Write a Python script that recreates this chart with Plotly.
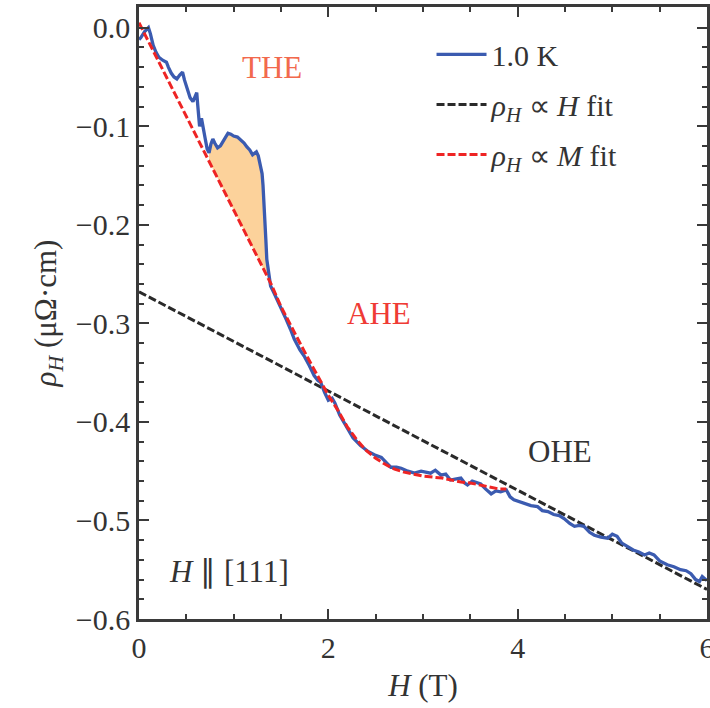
import numpy as np
import plotly.graph_objects as go

# ---- data ----
blue_H = [0.00, 0.02, 0.06, 0.10, 0.12, 0.15, 0.18, 0.21, 0.25, 0.29, 0.31, 0.34, 0.37, 0.40,
          0.43, 0.46, 0.48, 0.51, 0.54, 0.57, 0.59, 0.61, 0.62, 0.63, 0.64, 0.66, 0.68, 0.70,
          0.72, 0.74, 0.76, 0.78, 0.80, 0.83, 0.86, 0.88, 0.91, 0.94, 0.97, 1.00, 1.04, 1.08,
          1.11, 1.14, 1.17, 1.20, 1.22, 1.24, 1.26, 1.28, 1.30, 1.31, 1.32, 1.33, 1.34, 1.35,
          1.37, 1.39, 1.42, 1.46, 1.50, 1.55, 1.60, 1.64, 1.70, 1.75, 1.80, 1.85, 1.89, 1.92,
          1.96, 2.00, 2.04, 2.07, 2.12, 2.16, 2.20, 2.26, 2.34, 2.42, 2.50, 2.56, 2.62, 2.66,
          2.72, 2.77, 2.84, 2.91, 2.98, 3.04, 3.08, 3.13, 3.19, 3.24, 3.29, 3.34, 3.40, 3.44,
          3.47, 3.52, 3.57, 3.61, 3.66, 3.72, 3.77, 3.82, 3.88, 3.92, 3.96, 4.02, 4.07, 4.14,
          4.21, 4.26, 4.32, 4.38, 4.44, 4.49, 4.55, 4.60, 4.65, 4.70, 4.76, 4.81, 4.88, 4.95,
          5.00, 5.05, 5.10, 5.16, 5.22, 5.28, 5.34, 5.39, 5.44, 5.50, 5.58, 5.65, 5.72, 5.78,
          5.83, 5.88, 5.92, 5.95, 6.00]
blue_rho = [-0.012, -0.010, -0.004, 0.000, -0.006, -0.018, -0.025, -0.030, -0.033, -0.035, -0.040,
            -0.046, -0.050, -0.052, -0.048, -0.045, -0.053, -0.062, -0.071, -0.075, -0.070, -0.066,
            -0.078, -0.090, -0.100, -0.092, -0.105, -0.113, -0.123, -0.127, -0.118, -0.113, -0.117,
            -0.122, -0.120, -0.117, -0.112, -0.107, -0.108, -0.110, -0.111, -0.114, -0.117, -0.121,
            -0.124, -0.129, -0.127, -0.126, -0.130, -0.138, -0.148, -0.160, -0.175, -0.195, -0.215,
            -0.235, -0.250, -0.262, -0.268, -0.276, -0.284, -0.295, -0.306, -0.316, -0.327, -0.334,
            -0.343, -0.353, -0.358, -0.360, -0.370, -0.378, -0.376, -0.381, -0.393, -0.400, -0.407,
            -0.416, -0.424, -0.430, -0.434, -0.436, -0.442, -0.446, -0.446, -0.447, -0.450, -0.452,
            -0.450, -0.451, -0.452, -0.449, -0.454, -0.453, -0.459, -0.458, -0.457, -0.462, -0.464,
            -0.460, -0.462, -0.463, -0.468, -0.473, -0.470, -0.471, -0.469, -0.476, -0.479, -0.481,
            -0.483, -0.485, -0.486, -0.490, -0.491, -0.494, -0.495, -0.498, -0.503, -0.506, -0.505,
            -0.506, -0.512, -0.515, -0.517, -0.518, -0.514, -0.516, -0.523, -0.527, -0.530, -0.532,
            -0.535, -0.533, -0.535, -0.541, -0.545, -0.547, -0.550, -0.551, -0.554, -0.560, -0.562,
            -0.557, -0.561]

hfit_H = [0.0, 6.0]
hfit_rho = [-0.268, -0.570]

mfit_H = [0.0, 0.2, 0.4, 0.6, 0.8, 1.0, 1.2, 1.4, 1.5, 1.6, 1.7, 1.8, 1.9, 2.0, 2.1, 2.2,
          2.3, 2.4, 2.5, 2.6, 2.7, 2.8, 2.9, 3.0, 3.1, 3.2, 3.3, 3.4, 3.5, 3.6, 3.7, 3.8, 3.88]
mfit_rho = [0.005, -0.033, -0.071, -0.109, -0.147, -0.185, -0.223, -0.261, -0.283, -0.302,
            -0.320, -0.338, -0.355, -0.373, -0.388, -0.405, -0.418, -0.429, -0.437, -0.443,
            -0.448, -0.451, -0.453, -0.455, -0.456, -0.457, -0.459, -0.461, -0.462, -0.464,
            -0.466, -0.468, -0.468]

the_range = [0.74, 1.40]

x_ticks = [0, 2, 4, 6]
x_ticklabels = ["0", "2", "4", "6"]
y_ticks = [0.0, -0.1, -0.2, -0.3, -0.4, -0.5, -0.6]
y_ticklabels = ["0.0", "\u22120.1", "\u22120.2", "\u22120.3", "\u22120.4", "\u22120.5", "\u22120.6"]

# ---- styles ----
FONT = "Liberation Serif"
TXT = "#333333"
BLUE = "#3b5bb0"
RED = "#ee2424"
BLACK = "#2a2a2a"
FILL = "rgba(252,210,155,1)"
DASH = "8px,3px"

bh = np.array(blue_H)
br = np.array(blue_rho)
mask = (bh >= the_range[0]) & (bh <= the_range[1])
seg_H = bh[mask]
seg_blue = br[mask]
seg_red = np.interp(seg_H, mfit_H, mfit_rho)

fig = go.Figure()

# THE shaded area
fig.add_trace(go.Scatter(x=seg_H, y=seg_red, mode="lines", line=dict(width=0),
                         showlegend=False, hoverinfo="skip"))
fig.add_trace(go.Scatter(x=seg_H, y=seg_blue, mode="lines", line=dict(width=0),
                         fill="tonexty", fillcolor=FILL, showlegend=False, hoverinfo="skip"))

fig.add_trace(go.Scatter(x=hfit_H, y=hfit_rho, mode="lines",
                         line=dict(color=BLACK, width=3, dash=DASH),
                         name="<i>ρ<sub>H</sub></i> ∝ <i>H</i> fit", legendgroup="b", legendrank=2))
fig.add_trace(go.Scatter(x=blue_H, y=blue_rho, mode="lines",
                         line=dict(color=BLUE, width=3.3),
                         name="1.0 K", legendgroup="a", legendrank=1))
fig.add_trace(go.Scatter(x=mfit_H, y=mfit_rho, mode="lines",
                         line=dict(color=RED, width=3, dash=DASH),
                         name="<i>ρ<sub>H</sub></i> ∝ <i>M</i> fit", legendgroup="c", legendrank=3))

ann_font = dict(family=FONT, size=31)
fig.add_annotation(x=1.41, y=-0.040, text="THE", showarrow=False,
                   font=dict(ann_font, color="#f2694d"))
fig.add_annotation(x=2.53, y=-0.290, text="AHE", showarrow=False,
                   font=dict(ann_font, color="#ef3b35"))
fig.add_annotation(x=4.45, y=-0.430, text="OHE", showarrow=False,
                   font=dict(ann_font, color=TXT))
fig.add_annotation(x=0.95, y=-0.552, text="<i>H</i> ∥ [111]", showarrow=False,
                   font=dict(ann_font, color=TXT))

axis_common = dict(showline=True, linecolor="#3a3a3a", linewidth=2.5, mirror="allticks",
                   ticks="inside", ticklen=10, tickwidth=1.5, tickcolor="#3a3a3a",
                   showgrid=False, zeroline=False, automargin=False,
                   ticklabeloverflow="allow",
                   tickfont=dict(family=FONT, size=30, color=TXT))

fig.update_xaxes(range=[0, 6], tickvals=x_ticks, ticktext=x_ticklabels,
                 minor=dict(dtick=0.5, ticks="inside", ticklen=5, tickwidth=1.5, tickcolor="#3a3a3a"),
                 title=dict(text="<i>H</i> (T)", font=dict(family=FONT, size=31, color=TXT), standoff=12),
                 **axis_common)
fig.update_yaxes(range=[-0.6, 0.021], tickvals=y_ticks, ticktext=y_ticklabels,
                 minor=dict(dtick=0.02, tick0=0, ticks="inside", ticklen=5, tickwidth=1.5, tickcolor="#3a3a3a"),
                 title=dict(text="<i>ρ<sub>H</sub></i> (μΩ·cm)", font=dict(family=FONT, size=31, color=TXT), standoff=10),
                 **axis_common)

fig.update_layout(
    width=710, height=708,
    margin=dict(l=139, r=3, t=7, b=89, autoexpand=False),
    plot_bgcolor="white", paper_bgcolor="white",
    legend=dict(x=0.515, y=0.965, xanchor="left", yanchor="top",
                bgcolor="rgba(0,0,0,0)", font=dict(family=FONT, size=30, color=TXT),
                traceorder="grouped", tracegroupgap=8, itemwidth=50),
    showlegend=True,
)

fig.write_html("out.html")
